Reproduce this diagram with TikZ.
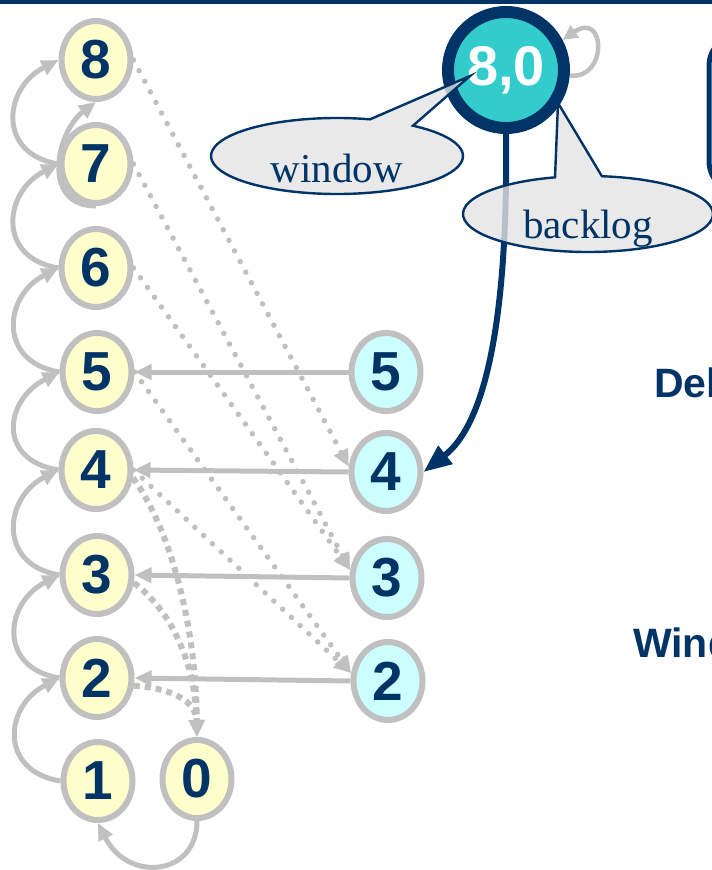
\documentclass[tikz,border=0pt]{standalone}
\usepackage{fontspec}
\setmainfont{Liberation Serif}
\setsansfont{Liberation Sans}
\usetikzlibrary{arrows.meta,shapes.geometric}
\definecolor{navy}{HTML}{003366}
\definecolor{linkgray}{HTML}{C0C0C0}
\definecolor{pale}{HTML}{FFFFCC}
\definecolor{icecyan}{HTML}{CCFFFF}
\definecolor{tealfill}{HTML}{33CCCC}
\definecolor{calloutfill}{HTML}{E4E4E4}

\begin{document}
\begin{tikzpicture}[x=1pt,y=1pt,
  seq/.style={ellipse, draw=linkgray, line width=6pt, minimum width=69pt,
    minimum height=78pt, inner sep=0pt, text=navy,
    font=\sffamily\bfseries\fontsize{55}{55}\selectfont},
  pend/.style={seq, fill=pale},
  acked/.style={seq, fill=icecyan},
  link/.style={draw=linkgray, line width=5pt, -{Triangle[length=17pt,width=15pt]}},
  dotlink/.style={link, line width=5.5pt, line cap=round, dash pattern=on 0pt off 12pt},
  sqlink/.style={link, line width=6pt, dash pattern=on 6pt off 5pt},
  callout/.style={fill=calloutfill, fill opacity=0.8, draw=navy, line width=2.4pt},
  ctext/.style={anchor=base, text=navy, inner sep=0pt, font=\fontsize{41}{41}\selectfont},
  side/.style={anchor=base west, text=navy, inner sep=0pt,
    font=\sffamily\bfseries\fontsize{41}{41}\selectfont}
]
\useasboundingbox (0,0) rectangle (712,-870);
\clip (0,0) rectangle (712,-870);

% top rule
\fill[navy] (0,0) rectangle (712,-3.5);

% partly visible panel on the right
\draw[navy, line width=5pt, rounded corners=32pt] (709,-34) rectangle (790,-193);

% sender side sequence numbers
\node[pend] (y8) at (96,-60)  {8};
\node[pend] (y7) at (96,-164) {7};
\node[pend] (y6) at (96,-268) {6};
\node[pend] (y5) at (97,-372) {5};
\node[pend] (y4) at (96,-470) {4};
\node[pend] (y3) at (97,-575) {3};
\node[pend] (y2) at (97,-678) {2};
\node[pend] (y1) at (98,-781) {1};
\node[pend] (y0) at (197,-779) {0};

% acknowledged sequence numbers
\node[acked] (c5) at (386,-372) {5};
\node[acked] (c4) at (386,-472) {4};
\node[acked] (c3) at (387,-578) {3};
\node[acked] (c2) at (388,-681) {2};

% window / backlog state
\node[circle, fill=tealfill, draw=navy, line width=12pt, minimum size=116pt,
  inner sep=0pt, text=white, font=\sffamily\bfseries\fontsize{56}{56}\selectfont]
  (st) at (506,-70) {8,0};

% chain along the left
\foreach \a/\b in {y1/y2,y2/y3,y3/y4,y4/y5,y5/y6,y6/y7,y7/y8}
  \draw[link] (\a.west) .. controls +(-62,10) and +(-55,-28) .. (\b.west);
\draw[link] (y7.south) .. controls +(-55,0) and +(-40,-30) .. (y8.south);
\draw[link] (y0.south) .. controls +(0,-55) and +(30,-60) .. (y1.south);

% acknowledgements
\foreach \k in {5,4,3,2}
  \draw[link] (c\k.west) -- (y\k.east);

% dotted mappings
\draw[dotlink] (y8.east) -- (c4.172);
\draw[dotlink] (y7.east) -- (c3.168);
\draw[dotlink] (y6.east) -- (c3.168);
\draw[dotlink] (y5.east) -- (c2.168);
\draw[dotlink] (y4.east) -- (c2.168);

% square-dotted mappings to 0
\draw[sqlink] (y4.-12) .. controls (168,-525) and (196,-620) .. (y0.north);
\draw[sqlink] (y3.-12) .. controls (170,-610) and (195,-660) .. (y0.north);
\draw[sqlink] (y2.-12) .. controls (170,-688) and (196,-700) .. (y0.north);

% self loop of the state node
\draw[draw=linkgray, line width=4.5pt, -{Triangle[length=15pt,width=14pt]}]
  (st.-5) .. controls (608,-80) and (606,-10) .. (st.28);

% state update arrow
\draw[navy, line width=6pt, -{Triangle[length=28pt,width=22pt]}]
  (st.south) .. controls (508,-300) and (490,-420) .. (c4.east);

% callouts
\path[callout] (337,-156) ++(74.8:126pt and 38pt)
  arc[start angle=74.8, end angle=412.9, x radius=126pt, y radius=38pt]
  -- (470,-76) -- cycle;
\node[ctext] (wlabel) at (337,-182) {window};

\path[callout] (588,-214) ++(105.3:125pt and 38pt)
  arc[start angle=105.3, end angle=443.6, x radius=125pt, y radius=38pt]
  -- (558,-103) -- cycle;
\node[ctext] (blabel) at (588,-238) {backlog};

% side labels
\node[side] (dlabel) at (654,-397) {Del};
\node[side] (wnlabel) at (633,-657) {Wind};
\end{tikzpicture}
\end{document}
